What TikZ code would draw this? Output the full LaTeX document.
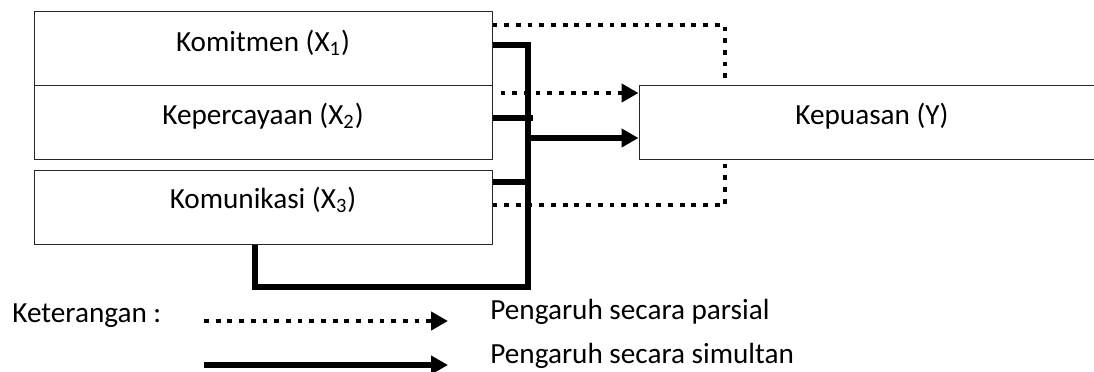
\documentclass[tikz,border=0pt]{standalone}
\usepackage{fontspec}
\setmainfont{Carlito}
\usetikzlibrary{calc, positioning, arrows.meta}
\tikzset{
  varbox/.style={draw=black!85, line width=0.5pt, minimum width=229pt, minimum height=37pt, inner sep=0pt},
  varlabel/.style={font=\fontsize{14.6}{17}\selectfont, inner sep=0pt},
  partial/.style={line width=2.4pt, dash pattern=on 2.4pt off 3.45pt},
  simultan/.style={line width=2.6pt},
  tip/.style={-{Triangle[length=8.5pt,width=9pt]}}
}

\begin{document}
\begin{tikzpicture}[x=0.5pt, y=-0.5pt]
  \useasboundingbox (0,0) rectangle (1094,371);
  % variable boxes
  \node[varbox] (x1) at (263,48.5) {};
  \node[varbox] (x2) at (263,122) {};
  \node[varbox] (x3) at (263,207) {};
  \node[varbox, minimum width=233pt] (y) at (872,122) {};
  \node[varlabel] (x1t) at ($(x1.center)+(0,-6)$) {Komitmen (X\textsubscript{1})};
  \node[varlabel] (x2t) at ($(x2.center)+(0,-6)$) {Kepercayaan (X\textsubscript{2})};
  \node[varlabel] (x3t) at ($(x3.center)+(0,-7)$) {Komunikasi (X\textsubscript{3})};
  \node[varlabel] (yt) at ($(y.center)+(0,-6)$) {Kepuasan (Y)};
  % partial paths
  \coordinate (pt1) at (725,25);
  \coordinate (pt3) at (725,205);
  \draw[partial] (x1.east |- pt1) -- (pt1) -- (pt1 |- y.north);
  \draw[partial] (x3.east |- pt3) -- (pt3) -- (pt3 |- y.south);
  \draw[partial, tip, shorten <=4pt] ($(x2.east)+(0,-29)$) -- ($(y.west)+(0,-29)$);
  % simultaneous paths
  \coordinate (trunk) at (528,45);
  \coordinate (loop) at (255,287);
  \draw[simultan] (x1.east |- trunk) -- (trunk) -- (trunk |- loop) -- (loop) -- (loop |- x3.south);
  \draw[simultan] ($(x2.east)+(0,-4)$) -- ++(40,0);
  \draw[simultan] (x3.east |- 0,182) -- (trunk |- 0,182);
  \draw[simultan, tip] (trunk |- 0,138) -- (y.west |- 0,138);
  % legend
  \node[varlabel, anchor=base west] (ket) at (12,322) {Keterangan :};
  \coordinate (pa) at (204,321);
  \coordinate (pb) at (448,321);
  \draw[partial, tip] (pa) -- (pb);
  \node[varlabel, anchor=base west] (lp) at (490,319) {Pengaruh secara parsial};
  \coordinate (sa) at (204,365);
  \coordinate (sb) at (448,365);
  \draw[simultan, tip] (sa) -- (sb);
  \node[varlabel, anchor=base west] (ls) at (490,363) {Pengaruh secara simultan};
\end{tikzpicture}
\end{document}
